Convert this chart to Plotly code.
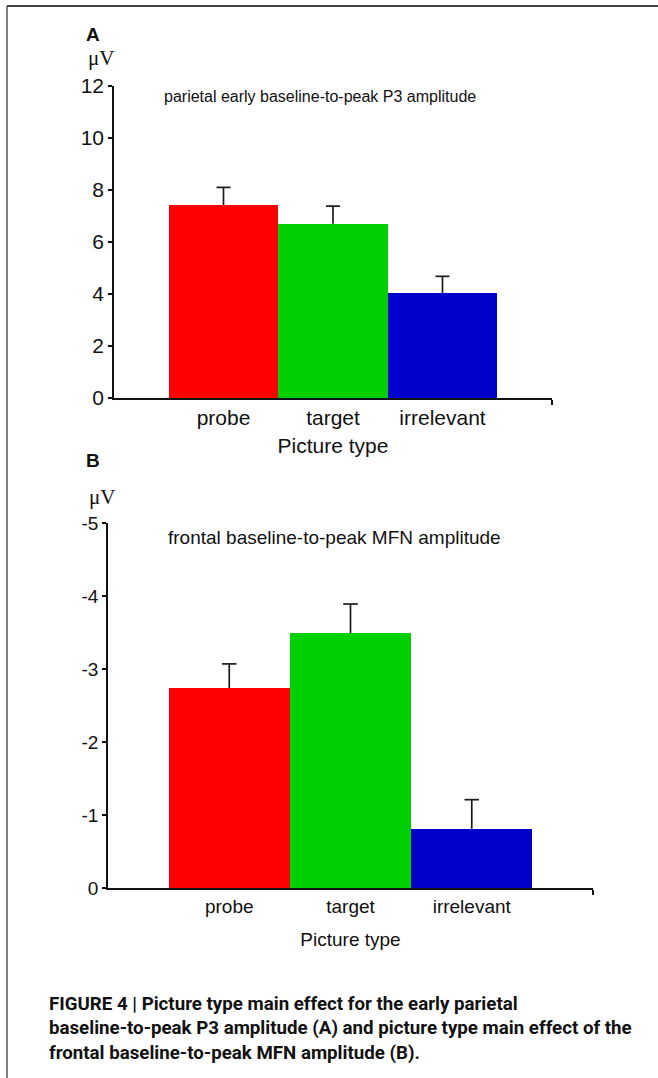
import plotly.graph_objects as go

W, H = 658, 1078

categories = ["probe", "target", "irrelevant"]
bar_colors = ["#FF0000", "#00D000", "#0000CC"]

# Panel A: parietal early baseline-to-peak P3 amplitude (µV)
p3_means = [7.42, 6.70, 4.04]
p3_err = [0.68, 0.68, 0.64]
a_ticks = [0, 2, 4, 6, 8, 10, 12]

# Panel B: frontal baseline-to-peak MFN amplitude (µV, negative)
mfn_means = [-2.74, -3.49, -0.81]
mfn_err = [0.33, 0.40, 0.40]
b_ticks = [0, -1, -2, -3, -4, -5]
b_ticktext = ["0", "-1", "-2", "-3", "-4", "-5"]

FONT = "Liberation Sans, Arial, sans-serif"
ERR_COLOR = "#1a1a1a"


def px(x):
    return x / W


def py(y):
    return 1 - y / H


def err_paths(means, errs, direction, cap):
    """One-sided (upward) error bar: stem from bar top plus a cap; no lower cap."""
    xs, ys = [], []
    for i, (m, e) in enumerate(zip(means, errs)):
        top = m + direction * e
        xs += [i, i, None, i - cap, i + cap, None]
        ys += [m, top, None, top, top, None]
    return xs, ys


fig = go.Figure()

fig.add_trace(go.Bar(
    x=[0, 1, 2], y=p3_means, width=1.0,
    marker=dict(color=bar_colors, line=dict(width=0)),
    xaxis="x", yaxis="y", showlegend=False,
))
ex, ey = err_paths(p3_means, p3_err, +1, 0.064)
fig.add_trace(go.Scatter(x=ex, y=ey, mode="lines", line=dict(color=ERR_COLOR, width=1.7),
                         xaxis="x", yaxis="y", showlegend=False, hoverinfo="skip"))

fig.add_trace(go.Bar(
    x=[0, 1, 2], y=mfn_means, width=1.0,
    marker=dict(color=bar_colors, line=dict(width=0)),
    xaxis="x2", yaxis="y2", showlegend=False,
))
ex, ey = err_paths(mfn_means, mfn_err, -1, 0.06)
fig.add_trace(go.Scatter(x=ex, y=ey, mode="lines", line=dict(color=ERR_COLOR, width=1.7),
                         xaxis="x2", yaxis="y2", showlegend=False, hoverinfo="skip"))

axis_common = dict(showline=True, linecolor="#111", linewidth=1.5, showgrid=False,
                   zeroline=False, ticks="outside", ticklen=4, tickwidth=1.5,
                   tickcolor="#111", automargin=False)

fig.update_layout(
    template="none",
    width=W, height=H,
    margin=dict(l=0, r=0, t=0, b=0, pad=0),
    paper_bgcolor="white", plot_bgcolor="white",
    font=dict(family=FONT, color="#111"),
    bargap=0,
    xaxis=dict(
        domain=[px(114), px(552)], range=[-1, 3], anchor="y", automargin=False,
        showline=True, linecolor="#111", linewidth=1.5, showgrid=False, zeroline=False,
        tickmode="array", tickvals=[0, 1, 2], ticktext=categories, ticks="",
        tickfont=dict(size=21), ticklabelstandoff=0,
        minor=dict(tickmode="array", tickvals=[3], ticks="outside", ticklen=5,
                   tickwidth=1.5, tickcolor="#111", showgrid=False),
        title=dict(text="Picture type", font=dict(size=21), standoff=10),
    ),
    yaxis=dict(
        domain=[py(398), py(86)], range=[0, 12], anchor="x",
        tickmode="array", tickvals=a_ticks, tickfont=dict(size=21),
        **axis_common,
    ),
    xaxis2=dict(
        domain=[px(108), px(593)], range=[-1, 3], anchor="y2", automargin=False,
        showline=True, linecolor="#111", linewidth=1.5, showgrid=False, zeroline=False,
        tickmode="array", tickvals=[0, 1, 2], ticktext=categories, ticks="",
        tickfont=dict(size=19), ticklabelstandoff=0,
        minor=dict(tickmode="array", tickvals=[3], ticks="outside", ticklen=5,
                   tickwidth=1.5, tickcolor="#111", showgrid=False),
        title=dict(text="Picture type", font=dict(size=19), standoff=17),
    ),
    yaxis2=dict(
        domain=[py(888), py(523)], range=[0, -5], anchor="x2",
        tickmode="array", tickvals=b_ticks, ticktext=b_ticktext, tickfont=dict(size=19),
        **axis_common,
    ),
)

annotations = [
    dict(text="<b>A</b>", x=px(84), y=py(35), xanchor="left", yanchor="middle",
         font=dict(size=19, family=FONT)),
    dict(text="μV", x=px(86), y=py(58), xanchor="left", yanchor="middle",
         font=dict(size=21, family="Liberation Serif, Times New Roman, serif")),
    dict(text="parietal early baseline-to-peak P3 amplitude", x=px(162), y=py(97),
         xanchor="left", yanchor="middle", font=dict(size=16, family=FONT)),
    dict(text="<b>B</b>", x=px(84), y=py(460), xanchor="left", yanchor="middle",
         font=dict(size=19, family=FONT)),
    dict(text="μV", x=px(87), y=py(497), xanchor="left", yanchor="middle",
         font=dict(size=21, family="Liberation Serif, Times New Roman, serif")),
    dict(text="frontal baseline-to-peak MFN amplitude", x=px(166), y=py(537),
         xanchor="left", yanchor="middle", font=dict(size=19, family=FONT)),
    dict(text="<b>FIGURE 4 | Picture type main effect for the early parietal<br>"
              "baseline-to-peak P3 amplitude (A) and picture type main effect of the<br>"
              "frontal baseline-to-peak MFN amplitude (B).</b>",
         x=px(47), y=py(1028), xanchor="left", yanchor="middle", align="left",
         font=dict(size=18.7, family="Roboto, sans-serif", color="#111")),
]
for a in annotations:
    a.update(xref="paper", yref="paper", showarrow=False)
fig.update_layout(annotations=annotations)

fig.update_layout(shapes=[
    dict(type="line", xref="paper", yref="paper", x0=px(7), x1=1, y0=py(6), y1=py(6),
         line=dict(color="#444", width=2)),
    dict(type="line", xref="paper", yref="paper", x0=px(7), x1=px(7), y0=py(6), y1=0,
         line=dict(color="#555", width=1.5)),
])

fig.write_html("out.html")
